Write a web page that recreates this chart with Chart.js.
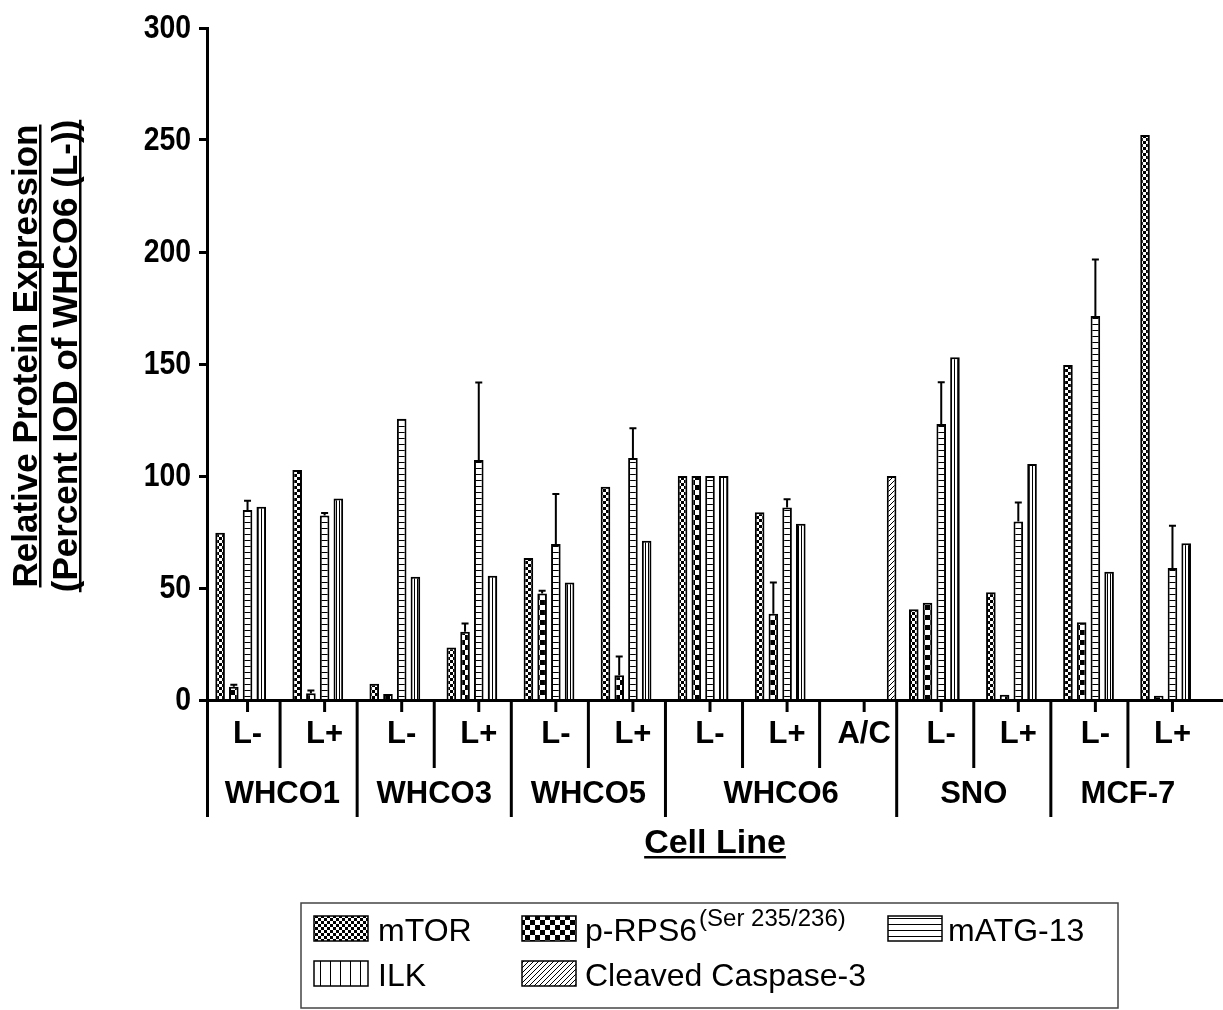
<!DOCTYPE html>
<html>
<head>
<meta charset="utf-8">
<script src="https://cdn.jsdelivr.net/npm/chart.js@4.4.1/dist/chart.umd.min.js"></script>
<style>
  html, body { margin: 0; padding: 0; background: #fff; }
  #wrap { width: 1223px; height: 1010px; }
</style>
</head>
<body>
<div id="wrap"><canvas id="chart" width="1223" height="1010"></canvas></div>
<script>
// categories (bottom row) and the cell line groups under them
const subLabels = ['L-', 'L+', 'L-', 'L+', 'L-', 'L+', 'L-', 'L+', 'A/C', 'L-', 'L+', 'L-', 'L+'];
const groupNames = ['WHCO1', 'WHCO3', 'WHCO5', 'WHCO6', 'SNO', 'MCF-7'];
const groupSizes = [2, 2, 2, 3, 2, 2];

const seriesNames = ['mTOR', 'p-RPS6', 'mATG-13', 'ILK', 'Cleaved Caspase-3'];

// values
const mTOR    = [74.7, 102.7, 7.3, 23.4, 63.4, 95.2, 100, 83.8, null, 40.5, 48.1, 149.6, 252.2];
const pRPS6   = [5.9, 3.0, 2.7, 30.5, 47.6, 11.0, 100, 38.5, null, 43.4, 2.3, 34.7, 1.9];
const mATG13  = [84.8, 82.4, 125.6, 107.1, 69.6, 108.0, 100, 85.9, null, 123.2, 79.7, 171.4, 58.9];
const ILK     = [86.3, 90.0, 55.0, 55.5, 52.4, 71.1, 100, 78.7, null, 153.0, 105.4, 57.3, 70.0];
const caspase = [null, null, null, null, null, null, null, null, 100, null, null, null, null];

// upper error bars
const pRPS6Err  = [0.9, 1.2, 0, 3.7, 1.2, 8.4, 0, 14.0, 0, 0, 0, 0, 0];
const mATG13Err = [4.2, 1.1, 0, 34.6, 22.4, 13.3, 0, 3.7, 0, 18.7, 8.5, 25.2, 18.9];

const yTicks = [0, 50, 100, 150, 200, 250, 300];
const yTitle = ['Relative Protein Expression', '(Percent IOD of WHCO6 (L-))'];
const xTitle = 'Cell Line';

const SANS = '"Liberation Sans", Arial, sans-serif';

// black & white fill patterns
function makePattern(kind) {
    const c = document.createElement('canvas');
    let n = 6;
    if (kind == 'coarse') n = 10;
    if (kind == 'vlines') n = 3;
    if (kind == 'vlinesWide') n = 10;
    if (kind == 'diag') n = 5;
    c.width = n; c.height = n;
    const g = c.getContext('2d');
    g.fillStyle = '#fff';
    g.fillRect(0, 0, n, n);
    g.fillStyle = '#000';
    g.strokeStyle = '#000';
    if (kind == 'fine') {
        g.fillRect(0, 0, 3, 3);
        g.fillRect(3, 3, 3, 3);
    } else if (kind == 'coarse') {
        g.fillRect(0, 0, 5, 5);
        g.fillRect(5, 5, 5, 5);
    } else if (kind == 'hlines') {
        g.fillRect(0, 0, n, 1);
    } else if (kind == 'vlines' || kind == 'vlinesWide') {
        g.fillRect(0, 0, 1, n);
    } else if (kind == 'diag') {
        g.lineWidth = 1;
        g.beginPath();
        g.moveTo(0, n); g.lineTo(n, 0);
        g.moveTo(-1, 1); g.lineTo(1, -1);
        g.moveTo(n - 1, n + 1); g.lineTo(n + 1, n - 1);
        g.stroke();
    }
    return g.createPattern(c, 'repeat');
}

const fills = [makePattern('fine'), makePattern('coarse'), makePattern('hlines'), makePattern('vlines'), makePattern('diag')];
const legendFills = [fills[0], fills[1], fills[2], makePattern('vlinesWide'), makePattern('diag')];

// draws the upper error bars
const errorBars = {
    id: 'errorBars',
    afterDatasetsDraw(chart) {
        const ctx = chart.ctx;
        const y = chart.scales.y;
        chart.data.datasets.forEach((ds, i) => {
            if (!ds.errors) return;
            chart.getDatasetMeta(i).data.forEach((bar, j) => {
                const e = ds.errors[j];
                if (!e || ds.data[j] == null) return;
                const top = y.getPixelForValue(ds.data[j] + e);
                ctx.save();
                ctx.strokeStyle = '#000';
                ctx.lineWidth = 2;
                ctx.beginPath();
                ctx.moveTo(bar.x, bar.y);
                ctx.lineTo(bar.x, top);
                ctx.moveTo(bar.x - 3.5, top);
                ctx.lineTo(bar.x + 3.5, top);
                ctx.stroke();
                ctx.restore();
            });
        });
    }
};

// x axis with two rows of labels, y tick labels, titles, legend
const decorations = {
    id: 'decorations',
    afterDraw(chart) {
        const ctx = chart.ctx;
        const x = chart.scales.x;
        const y = chart.scales.y;
        const a = chart.chartArea;
        const base = a.bottom;
        const step = x.getPixelForValue(1) - x.getPixelForValue(0);
        const edge = i => x.getPixelForValue(i) - step / 2 - 6;

        function line(x1, y1, x2, y2, w) {
            ctx.lineWidth = w || 3;
            ctx.beginPath();
            ctx.moveTo(x1, y1);
            ctx.lineTo(x2, y2);
            ctx.stroke();
        }

        ctx.save();
        ctx.strokeStyle = '#000';
        ctx.fillStyle = '#000';

        // y axis line (runs down as the first separator)
        line(a.left - 1.5, a.top - 1, a.left - 1.5, base + 117);
        // x axis line
        line(a.left - 3, base + 0.5, chart.width, base + 0.5);

        // y tick labels, condensed bold
        ctx.font = 'bold 33px ' + SANS;
        ctx.textAlign = 'right';
        ctx.textBaseline = 'middle';
        yTicks.forEach(v => {
            ctx.save();
            ctx.translate(191, y.getPixelForValue(v) + 1);
            ctx.scale(0.86, 1);
            ctx.fillText(String(v), 0, 0);
            ctx.restore();
        });

        // ticks under each category + labels
        ctx.font = 'bold 31px ' + SANS;
        ctx.textAlign = 'center';
        ctx.textBaseline = 'alphabetic';
        subLabels.forEach((s, i) => {
            const px = x.getPixelForValue(i);
            line(px, base, px, base + 12);
            ctx.fillText(s, px, 743);
        });

        // separators and group names
        let start = 0;
        groupSizes.forEach((n, g) => {
            const left = g == 0 ? a.left - 1.5 : edge(start);
            if (g > 0) line(left, base, left, base + 117);
            for (let k = 1; k < n; k++) {
                const px = edge(start + k);
                line(px, base, px, base + 68);
            }
            const right = edge(start + n);
            ctx.fillText(groupNames[g], (left + right) / 2, 803);
            start += n;
        });

        // x title
        ctx.font = 'bold 34px ' + SANS;
        ctx.fillText(xTitle, 715, 853);
        let w = ctx.measureText(xTitle).width;
        ctx.fillRect(715 - w / 2, 856, w, 2.5);

        // y title, two rotated lines
        ctx.font = 'bold 35px ' + SANS;
        [37, 77].forEach((bx, k) => {
            ctx.save();
            ctx.translate(bx, 356);
            ctx.rotate(-Math.PI / 2);
            ctx.fillText(yTitle[k], 0, 0);
            const tw = ctx.measureText(yTitle[k]).width;
            ctx.fillRect(-tw / 2, 2, tw, 2.5);
            ctx.restore();
        });

        // legend
        ctx.strokeStyle = '#444';
        ctx.lineWidth = 1.5;
        ctx.strokeRect(301, 903, 817, 105);
        const spots = [[314, 916, 378], [522, 916, 585], [888, 916, 948], [314, 961, 378], [522, 961, 585]];
        ctx.textAlign = 'left';
        spots.forEach((p, i) => {
            ctx.fillStyle = legendFills[i];
            ctx.fillRect(p[0], p[1], 54, 25);
            ctx.strokeStyle = '#000';
            ctx.lineWidth = 1.5;
            ctx.strokeRect(p[0], p[1], 54, 25);
            ctx.fillStyle = '#000';
            ctx.font = '32px ' + SANS;
            const by = p[1] + 25;
            ctx.fillText(seriesNames[i], p[2], by);
            if (i == 1) {
                const tw = ctx.measureText(seriesNames[i]).width;
                ctx.font = '24px ' + SANS;
                ctx.fillText('(Ser 235/236)', p[2] + tw + 2, by - 15);
            }
        });
        ctx.restore();
    }
};

const datasets = [mTOR, pRPS6, mATG13, ILK, caspase].map((d, i) => ({
    label: seriesNames[i],
    data: d,
    backgroundColor: fills[i],
    borderColor: '#000',
    borderWidth: 2,
    categoryPercentage: 0.89,
    barPercentage: 0.7
}));
datasets[1].errors = pRPS6Err;
datasets[2].errors = mATG13Err;

const chart = new Chart(document.getElementById('chart'), {
    type: 'bar',
    data: { labels: subLabels, datasets: datasets },
    plugins: [errorBars, decorations],
    options: {
        responsive: false,
        animation: false,
        layout: { padding: { left: 0, top: 28, right: 12, bottom: 310 } },
        plugins: { legend: { display: false }, tooltip: { enabled: false } },
        scales: {
            x: {
                offset: true,
                grid: { display: false },
                border: { display: false },
                ticks: { display: false },
                afterFit(scale) { scale.height = 0; }
            },
            y: {
                min: 0,
                max: 300,
                afterBuildTicks(scale) { scale.ticks = yTicks.map(v => ({ value: v })); },
                afterFit(scale) { scale.width = 209; },
                grid: { display: true, drawOnChartArea: false, drawTicks: true, tickLength: 10, tickWidth: 3, tickColor: '#000' },
                border: { display: false },
                ticks: { display: false }
            }
        }
    }
});
</script>
</body>
</html>
